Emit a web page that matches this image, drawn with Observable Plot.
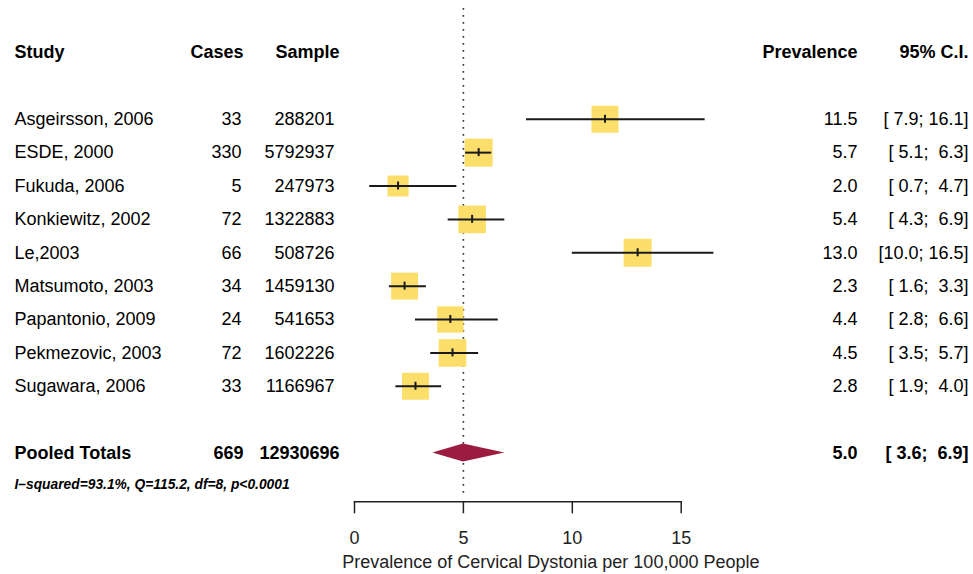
<!DOCTYPE html>
<html><head><meta charset="utf-8">
<script src="https://cdn.jsdelivr.net/npm/d3@7"></script>
<script src="https://cdn.jsdelivr.net/npm/@observablehq/plot@0.6"></script>
<style>
body{margin:0;background:#fff;}
svg text{white-space:pre;}
</style></head><body><div id="chart"></div>
<script>
const headers = ["Study", "Cases", "Sample", "Prevalence", "95% C.I."];
const studies = ["Asgeirsson, 2006", "ESDE, 2000", "Fukuda, 2006", "Konkiewitz, 2002", "Le,2003",
  "Matsumoto, 2003", "Papantonio, 2009", "Pekmezovic, 2003", "Sugawara, 2006"];
const cases = [33, 330, 5, 72, 66, 34, 24, 72, 33];
const samples = [288201, 5792937, 247973, 1322883, 508726, 1459130, 541653, 1602226, 1166967];
const prevalence = [11.5, 5.7, 2.0, 5.4, 13.0, 2.3, 4.4, 4.5, 2.8];
const lower = [7.9, 5.1, 0.7, 4.3, 10.0, 1.6, 2.8, 3.5, 1.9];
const upper = [16.1, 6.3, 4.7, 6.9, 16.5, 3.3, 6.6, 5.7, 4.0];
const weights = [11.3, 12.2, 6.9, 11.9, 12.2, 11.3, 10.8, 11.9, 11.3];
const pooledLabel = "Pooled Totals";
const pooledCases = 669;
const pooledSample = 12930696;
const pooledEst = 5.0;
const pooledLower = 3.6;
const pooledUpper = 6.9;
const heterogeneity = "I\u2013squared=93.1%, Q=115.2, df=8, p<0.0001";
const xTicks = [0, 5, 10, 15];
const xTitle = "Prevalence of Cervical Dystonia per 100,000 People";

const pad = v => v.toFixed(1).padStart(4, " ");
const fmtCI = (lo, hi) => `[${pad(lo)}; ${pad(hi)}]`;

const rows = studies.map((s, i) => ({
  study: s, cases: cases[i], sample: samples[i], est: prevalence[i],
  lo: lower[i], hi: upper[i], w: weights[i], row: i + 2
}));
const pooled = [{study: pooledLabel, cases: pooledCases, sample: pooledSample, est: pooledEst,
  lo: pooledLower, hi: pooledUpper, row: rows.length + 3}];
const hetRow = rows.length + 4;
const headerRow = [{row: 0}];
const dh = 0.27;
const diamond = [
  {y: pooled[0].row - dh, x1: pooledEst, x2: pooledEst},
  {y: pooled[0].row, x1: pooledLower, x2: pooledUpper},
  {y: pooled[0].row + dh, x1: pooledEst, x2: pooledEst}
];

const FS = 18;
const txt = {fill: "#000", fontSize: FS};
const plot = Plot.plot({
  width: 973, height: 574,
  marginLeft: 354, marginRight: 292.3, marginTop: 8, marginBottom: 72.7,
  style: {fontFamily: "'Liberation Sans', Arial, Helvetica, sans-serif", background: "#fff", color: "#000"},
  x: {domain: [0, 15]},
  y: {domain: [0, 13], range: [52, 485.9], axis: null},
  r: {domain: [0, 12.2], range: [0, 28 / Math.sqrt(Math.PI)]},
  marks: [
    Plot.ruleX([pooledEst], {stroke: "#333", strokeWidth: 1.6, strokeDasharray: "1.8,5.2", insetBottom: 6}),
    Plot.dot(rows, {x: "est", y: "row", r: "w", symbol: "square", fill: "#fcdf6a", stroke: null}),
    Plot.ruleY(rows, {y: "row", x1: "lo", x2: "hi", stroke: "#1a1a1a", strokeWidth: 2}),
    Plot.ruleX(rows, {x: "est", y1: d => d.row - 0.12, y2: d => d.row + 0.12, stroke: "#1a1a1a", strokeWidth: 2}),
    Plot.areaX(diamond, {y: "y", x1: "x1", x2: "x2", fill: "#9c1b3e", curve: "linear"}),
    // headers
    Plot.text(headerRow, {y: "row", text: () => headers[0], frameAnchor: "left", dx: -340, textAnchor: "start", fontWeight: "bold", ...txt}),
    Plot.text(headerRow, {y: "row", text: () => headers[1], frameAnchor: "left", dx: -111, textAnchor: "end", fontWeight: "bold", ...txt}),
    Plot.text(headerRow, {y: "row", text: () => headers[2], frameAnchor: "left", dx: -15, textAnchor: "end", fontWeight: "bold", ...txt}),
    Plot.text(headerRow, {y: "row", text: () => headers[3], frameAnchor: "right", dx: 176.3, textAnchor: "end", fontWeight: "bold", ...txt}),
    Plot.text(headerRow, {y: "row", text: () => headers[4], frameAnchor: "right", dx: 287.3, textAnchor: "end", fontWeight: "bold", ...txt}),
    // study rows
    Plot.text(rows, {y: "row", text: "study", frameAnchor: "left", dx: -340, textAnchor: "start", ...txt}),
    Plot.text(rows, {y: "row", text: d => String(d.cases), frameAnchor: "left", dx: -113, textAnchor: "end", ...txt}),
    Plot.text(rows, {y: "row", text: d => String(d.sample), frameAnchor: "left", dx: -20, textAnchor: "end", ...txt}),
    Plot.text(rows, {y: "row", text: d => d.est.toFixed(1), frameAnchor: "right", dx: 176.3, textAnchor: "end", ...txt}),
    Plot.text(rows, {y: "row", text: d => fmtCI(d.lo, d.hi), frameAnchor: "right", dx: 287.3, textAnchor: "end", ...txt}),
    // pooled
    Plot.text(pooled, {y: "row", text: "study", frameAnchor: "left", dx: -340, textAnchor: "start", fontWeight: "bold", ...txt}),
    Plot.text(pooled, {y: "row", text: d => String(d.cases), frameAnchor: "left", dx: -111, textAnchor: "end", fontWeight: "bold", ...txt}),
    Plot.text(pooled, {y: "row", text: d => String(d.sample), frameAnchor: "left", dx: -15, textAnchor: "end", fontWeight: "bold", ...txt}),
    Plot.text(pooled, {y: "row", text: d => d.est.toFixed(1), frameAnchor: "right", dx: 176.3, textAnchor: "end", fontWeight: "bold", ...txt}),
    Plot.text(pooled, {y: "row", text: d => fmtCI(d.lo, d.hi), frameAnchor: "right", dx: 287.3, textAnchor: "end", fontWeight: "bold", ...txt}),
    Plot.text([heterogeneity], {y: () => hetRow, text: d => d, frameAnchor: "left", dx: -340, dy: -1.5, textAnchor: "start", fontWeight: "bold", fontStyle: "italic", fill: "#000", fontSize: 13.8}),
    // axis
    Plot.frame({anchor: "bottom", stroke: "#222", strokeWidth: 1.5}),
    Plot.axisX({ticks: xTicks, tickSize: 12, tickPadding: 17, fontSize: FS, label: null, stroke: "#222", strokeWidth: 1.5, fill: "#222"}),
    Plot.text([xTitle], {text: d => d, frameAnchor: "bottom", dy: 60.7, dx: 33, lineAnchor: "middle", fill: "#222", fontSize: FS})
  ]
});
document.getElementById("chart").appendChild(plot);
</script></body></html>
